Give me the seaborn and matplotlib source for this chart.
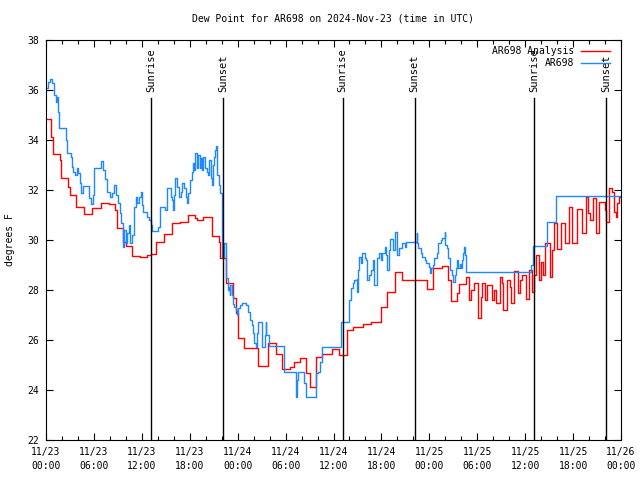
import numpy as np
import pandas as pd
import matplotlib
matplotlib.use("Agg")
import matplotlib.pyplot as plt
import matplotlib.dates as mdates
import seaborn as sns

# hours after 2024-11-23 00:00 UTC, dew point in F
red_hours = [0.0, 0.6, 0.9, 1.75, 1.9, 2.75, 3.0, 3.75, 4.75, 5.75, 6.9, 7.9, 8.6, 8.9,
             9.6, 10.0, 10.75, 11.75, 12.6, 13.1, 13.75, 14.75, 15.75, 16.75, 17.75,
             18.6, 18.9, 19.6, 20.75, 21.6, 21.75, 22.6, 23.4, 23.75, 24.0, 24.75, 26.6,
             27.75, 28.75, 29.6, 30.6, 31.0, 31.75, 32.6, 33.0, 33.75, 34.6, 35.75,
             36.75, 37.75, 38.5, 39.75, 40.75, 41.9, 42.75, 43.75, 44.6, 47.75, 48.5,
             49.6, 50.4, 50.75, 51.5, 51.75, 52.6, 53.0, 53.25, 53.6, 54.1, 54.5, 54.6,
             55.0, 55.25, 55.9, 56.1, 56.4, 56.9, 57.1, 57.25, 57.75, 58.1, 58.25, 58.6,
             59.1, 59.4, 59.6, 60.1, 60.5, 60.9, 61.1, 61.4, 61.75, 62.0, 62.25, 62.5,
             63.1, 63.4, 63.6, 64.0, 64.5, 65.0, 65.5, 65.9, 66.5, 67.1, 67.6, 67.9,
             68.1, 68.5, 68.9, 69.25, 70.0, 70.1, 70.5, 70.9, 71.1, 71.4, 71.5, 71.75,
             72.0]
red_dewpt = [34.84, 34.12, 33.44, 33.2, 32.48, 32.12, 31.8, 31.32, 31.04, 31.28, 31.48,
             31.44, 31.2, 30.48, 29.92, 29.76, 29.36, 29.32, 29.4, 29.44, 29.92, 30.24,
             30.68, 30.72, 31.0, 30.88, 30.8, 30.92, 30.16, 29.92, 29.28, 28.3, 27.68,
             27.08, 26.1, 25.7, 24.96, 25.88, 25.44, 24.84, 24.92, 25.12, 25.28, 24.68,
             24.12, 25.32, 25.44, 25.64, 25.4, 26.4, 26.52, 26.64, 26.72, 27.32, 27.92,
             28.72, 28.4, 28.04, 28.88, 28.96, 28.4, 27.56, 27.88, 28.24, 28.52, 27.6,
             28.0, 28.28, 26.88, 27.72, 28.28, 27.6, 28.2, 27.6, 28.0, 27.48, 28.52,
             28.28, 27.2, 28.4, 28.12, 27.48, 28.76, 27.88, 28.4, 28.6, 27.64, 28.8,
             27.92, 28.6, 29.4, 28.4, 29.12, 28.6, 29.88, 28.52, 29.6, 30.68, 29.64,
             30.68, 29.88, 31.32, 29.88, 31.24, 30.28, 31.72, 31.08, 30.8, 31.68, 30.28,
             31.52, 31.2, 30.72, 32.08, 31.92, 31.12, 30.92, 31.48, 31.72, 31.72]

obs_hours = [0.0, 0.25, 0.5, 0.75, 1.0, 1.25, 1.4, 1.5, 1.6, 2.5, 2.6, 3.1, 3.25, 3.4,
             3.6, 3.9, 4.0, 4.25, 4.4, 4.6, 5.4, 5.6, 5.9, 6.0, 6.9, 7.1, 7.4, 7.6, 8.0,
             8.25, 8.5, 8.75, 9.0, 9.25, 9.4, 9.6, 9.75, 10.0, 10.1, 10.4, 10.5, 10.75,
             11.0, 11.25, 11.4, 11.6, 11.9, 12.0, 12.1, 12.6, 12.9, 13.1, 13.25, 14.0,
             14.25, 14.9, 15.1, 15.6, 15.75, 15.9, 16.0, 16.1, 16.4, 16.6, 16.9, 17.0,
             17.25, 17.5, 17.6, 17.75, 18.0, 18.25, 18.4, 18.5, 18.6, 18.9, 19.0, 19.25,
             19.4, 19.5, 19.6, 19.9, 20.1, 20.25, 20.4, 20.6, 20.75, 20.9, 21.0, 21.1,
             21.25, 21.4, 21.6, 21.75, 22.0, 22.1, 22.25, 22.5, 22.6, 22.75, 22.9, 23.0,
             23.1, 23.25, 23.4, 23.6, 23.75, 23.9, 24.0, 24.25, 24.5, 25.1, 25.25, 25.5,
             25.75, 25.9, 26.1, 26.25, 26.4, 26.5, 27.1, 27.4, 27.5, 27.6, 27.9, 29.75,
             31.25, 31.4, 31.5, 32.25, 32.5, 33.75, 34.0, 34.25, 34.5, 36.9, 37.0, 38.0,
             38.25, 38.4, 38.6, 38.9, 39.0, 39.1, 39.25, 39.5, 39.6, 39.9, 40.1, 40.25,
             40.5, 40.75, 40.9, 41.1, 41.4, 41.5, 41.75, 42.0, 42.1, 42.4, 42.6, 42.75,
             42.9, 43.1, 43.4, 43.5, 43.75, 43.9, 44.0, 44.25, 44.6, 44.9, 45.1, 46.4,
             46.5, 46.6, 47.0, 47.1, 47.5, 47.6, 47.9, 48.1, 48.25, 48.4, 48.6, 48.9,
             49.1, 49.5, 49.6, 49.9, 50.0, 50.25, 50.4, 50.6, 50.9, 51.0, 51.25, 51.4,
             51.5, 51.6, 51.9, 52.0, 52.1, 52.25, 52.4, 52.5, 52.6, 60.75, 61.0, 62.75,
             63.9, 72.0]
obs_dewpt = [36.08, 36.32, 36.44, 36.28, 35.8, 35.52, 35.72, 35.12, 34.48, 34.0, 33.48,
             33.32, 32.92, 32.72, 32.6, 32.88, 32.68, 32.28, 31.88, 32.16, 31.68, 31.44,
             31.8, 32.88, 33.16, 32.8, 32.44, 31.92, 31.72, 31.9, 32.2, 31.8, 31.48, 31.1,
             30.68, 29.72, 30.4, 29.9, 30.3, 30.6, 29.9, 30.2, 31.32, 31.72, 31.5, 31.72,
             31.92, 31.4, 31.12, 30.92, 30.8, 30.6, 30.36, 30.52, 31.32, 31.2, 32.08,
             31.72, 31.6, 31.2, 31.8, 32.48, 32.12, 31.72, 31.92, 32.28, 32.1, 31.72,
             31.48, 31.9, 32.4, 32.72, 33.08, 32.8, 33.48, 32.9, 33.4, 32.9, 33.3, 32.8,
             33.32, 32.9, 32.72, 32.6, 33.2, 32.5, 32.2, 33.0, 33.32, 33.6, 33.76, 32.6,
             32.2, 31.88, 30.8, 29.32, 29.88, 29.2, 28.48, 28.0, 28.12, 27.8, 28.2, 27.8,
             27.44, 27.32, 27.2, 27.0, 27.28, 27.4, 27.48, 27.4, 27.12, 26.8, 26.6, 26.28,
             25.88, 25.72, 26.28, 26.72, 25.72, 26.2, 26.72, 26.2, 25.76, 24.72, 23.72,
             24.4, 24.72, 24.28, 23.72, 24.68, 24.72, 25.12, 25.72, 26.28, 26.72, 27.6,
             28.08, 28.28, 28.4, 28.44, 27.92, 28.8, 29.32, 29.08, 29.48, 29.28, 29.2,
             28.4, 28.6, 28.8, 29.2, 28.2, 29.1, 29.28, 29.48, 29.2, 29.48, 29.72, 29.4,
             28.8, 29.6, 30.04, 29.72, 29.6, 30.32, 29.48, 29.4, 29.68, 29.88, 29.72,
             29.92, 30.28, 29.9, 29.68, 29.5, 29.32, 29.2, 29.08, 28.92, 28.68, 28.9, 29.0,
             29.3, 29.48, 29.88, 30.0, 30.1, 30.32, 29.8, 29.68, 29.3, 28.8, 28.6, 28.32,
             28.6, 28.88, 29.2, 28.9, 29.05, 28.9, 29.2, 29.48, 29.72, 29.4, 28.72, 29.0,
             29.76, 30.72, 31.76, 31.76]

sun_hours = [13.15, 22.15, 37.15, 46.15, 61.15, 70.1]
sun_labels = ["Sunrise", "Sunset", "Sunrise", "Sunset", "Sunrise", "Sunset"]

base = pd.Timestamp("2024-11-23 00:00")
red = pd.DataFrame({"time": base + pd.to_timedelta(red_hours, unit="h"), "dewpt": red_dewpt})
obs = pd.DataFrame({"time": base + pd.to_timedelta(obs_hours, unit="h"), "dewpt": obs_dewpt})

plt.rcParams["font.family"] = ["DejaVu Sans Mono"]
plt.rcParams["font.size"] = 7

fig = plt.figure(figsize=(6.4, 4.8), dpi=100)
ax = fig.add_axes([46 / 640, 40 / 480, 575 / 640, 400 / 480])

sns.lineplot(data=red, x="time", y="dewpt", ax=ax, color="#ff0000", lw=1.0,
             drawstyle="steps-post", estimator=None, label="AR698 Analysis")
sns.lineplot(data=obs, x="time", y="dewpt", ax=ax, color="#1e88ff", lw=1.0,
             drawstyle="steps-post", estimator=None, label="AR698")

# sunrise / sunset markers
for h, lab in zip(sun_hours, sun_labels):
    t = base + pd.Timedelta(hours=h)
    ax.axvline(t, ymin=0, ymax=(440 - 98) / 400, color="black", lw=1.0)
    ax.text(t, 0.87, lab, rotation=90, ha="center", va="bottom", fontsize=7.5,
            transform=ax.get_xaxis_transform())

ax.set_xlim(base, base + pd.Timedelta(hours=72))
ax.set_ylim(22, 38)
ax.set_yticks(np.arange(22, 39, 2))
ax.xaxis.set_major_locator(mdates.HourLocator(byhour=[0, 6, 12, 18]))
ax.xaxis.set_minor_locator(mdates.HourLocator(byhour=range(0, 24, 2)))
ax.xaxis.set_major_formatter(mdates.DateFormatter("%m/%d\n%H:%M"))
ax.tick_params(which="both", direction="in", top=True, right=True, width=0.8)
ax.tick_params(which="major", length=5, pad=5)
ax.tick_params(which="minor", length=3)
for lab in ax.get_xticklabels():
    lab.set_linespacing(1.5)
for s in ax.spines.values():
    s.set_linewidth(0.8)

ax.set_xlabel("")
ax.set_ylabel("degrees F")
ax.yaxis.set_label_coords(-0.054, 0.5)
ax.set_title("Dew Point for AR698 on 2024-Nov-23 (time in UTC)", fontsize=7, pad=13)

ax.legend(loc="upper right", bbox_to_anchor=(0.981, 0.985), markerfirst=False,
          frameon=False, borderpad=0, borderaxespad=0, handlelength=3.0,
          handletextpad=0.7, labelspacing=0.25)

fig.savefig("out.png", dpi=100)
